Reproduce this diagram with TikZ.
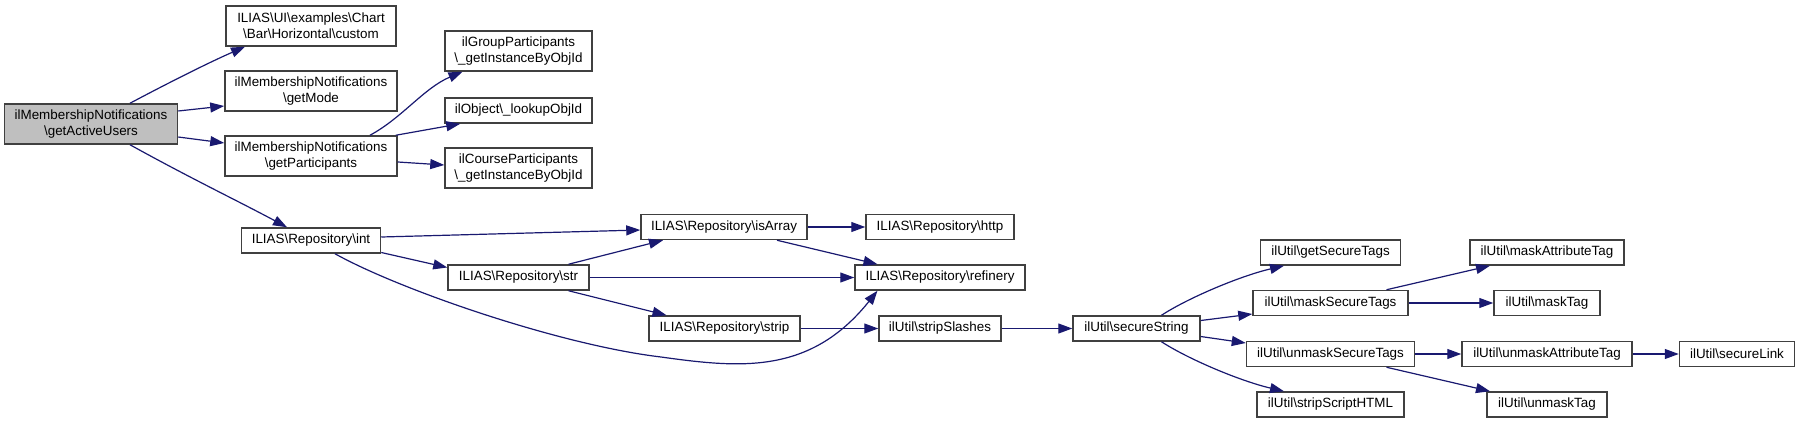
\documentclass[tikz,border=0pt]{standalone}
\usepackage{fontspec}
\setmainfont{Liberation Sans}
\usetikzlibrary{arrows.meta}
\newcommand\bsl{\textbackslash{}}
\definecolor{edgeblue}{HTML}{191970}
\definecolor{boxline}{HTML}{404040}
\definecolor{rootfill}{HTML}{BFBFBF}
\begin{document}
\begin{tikzpicture}[x=1pt,y=-1pt,
  box/.style={draw=boxline, line width=1.5pt, fill=white, inner sep=0pt, align=center,
    font=\fontsize{13.4}{16}\selectfont},
  root/.style={box, fill=rootfill},
  edge/.style={draw=edgeblue, line width=1.2pt, -{Triangle[length=14pt,width=10pt]}}
]
\useasboundingbox (0,0) rectangle (1800,423);
\fill[white] (0,0) rectangle (1800,423);

% nodes
\node[root, minimum width=173, minimum height=40] (gau) at (91,124) {ilMembershipNotifications\\\bsl getActiveUsers};
\node[box, minimum width=170, minimum height=40] (custom) at (311,26) {ILIAS\bsl UI\bsl examples\bsl Chart\\\bsl Bar\bsl Horizontal\bsl custom};
\node[box, minimum width=172, minimum height=40] (getmode) at (311,91) {ilMembershipNotifications\\\bsl getMode};
\node[box, minimum width=172, minimum height=40] (getpart) at (311,156) {ilMembershipNotifications\\\bsl getParticipants};
\node[box, minimum width=147, minimum height=40] (groups) at (518.5,51) {ilGroupParticipants\\\bsl\_getInstanceByObjId};
\node[box, minimum width=147, minimum height=25] (object) at (518.5,110.5) {ilObject\bsl\_lookupObjId};
\node[box, minimum width=147, minimum height=40] (course) at (518.5,168) {ilCourseParticipants\\\bsl\_getInstanceByObjId};
\node[box, minimum width=139, minimum height=25] (int) at (311,240.5) {ILIAS\bsl Repository\bsl int};
\node[box, minimum width=166, minimum height=25] (isarray) at (724,227) {ILIAS\bsl Repository\bsl isArray};
\node[box, minimum width=148, minimum height=25] (http) at (940,227) {ILIAS\bsl Repository\bsl http};
\node[box, minimum width=141, minimum height=25] (str) at (518.5,277.5) {ILIAS\bsl Repository\bsl str};
\node[box, minimum width=170, minimum height=25] (refinery) at (940,277.5) {ILIAS\bsl Repository\bsl refinery};
\node[box, minimum width=151, minimum height=25] (strip) at (724.5,328.5) {ILIAS\bsl Repository\bsl strip};
\node[box, minimum width=122, minimum height=25] (stripslashes) at (940,328.5) {ilUtil\bsl stripSlashes};
\node[box, minimum width=127, minimum height=25] (securestring) at (1136.5,328.5) {ilUtil\bsl secureString};
\node[box, minimum width=140, minimum height=25] (getsecuretags) at (1330.5,252.5) {ilUtil\bsl getSecureTags};
\node[box, minimum width=155, minimum height=25] (masksecuretags) at (1330.5,303) {ilUtil\bsl maskSecureTags};
\node[box, minimum width=168, minimum height=25] (unmasksecuretags) at (1330.5,354) {ilUtil\bsl unmaskSecureTags};
\node[box, minimum width=147, minimum height=25] (stripscripthtml) at (1330.5,404.5) {ilUtil\bsl stripScriptHTML};
\node[box, minimum width=154, minimum height=25] (maskattr) at (1547,252.5) {ilUtil\bsl maskAttributeTag};
\node[box, minimum width=106, minimum height=25] (masktag) at (1547,303) {ilUtil\bsl maskTag};
\node[box, minimum width=170, minimum height=25] (unmaskattr) at (1547,354) {ilUtil\bsl unmaskAttributeTag};
\node[box, minimum width=120, minimum height=25] (unmasktag) at (1547,404.5) {ilUtil\bsl unmaskTag};
\node[box, minimum width=115, minimum height=25] (securelink) at (1737,354) {ilUtil\bsl secureLink};

% edges
\draw[edge] ([xshift=39pt]gau.north) .. controls (170,82) and (210,62) .. ([xshift=-66pt]custom.south);
\draw[edge] ([yshift=13pt]gau.east) -- ([yshift=-15pt]getmode.west);
\draw[edge] ([yshift=-13pt]gau.east) -- ([yshift=13pt]getpart.west);
\draw[edge] ([xshift=39pt]gau.south) .. controls (190,178) and (240,202) .. ([xshift=-24pt]int.north);
\draw[edge] ([xshift=59pt]getpart.north) .. controls (402,118) and (424,88) .. ([xshift=-56pt]groups.south);
\draw[edge] ([xshift=-2pt]getpart.north east) -- ([xshift=16pt]object.south west);
\draw[edge] ([yshift=-6pt]getpart.east) -- ([yshift=3pt]course.west);
\draw[edge] ([yshift=3.5pt]int.east) -- ([yshift=-3pt]isarray.west);
\draw[edge] ([yshift=-12pt]int.east) -- ([yshift=10pt]str.west);
\draw[edge] ([xshift=24pt]int.south) .. controls (400,290) and (560,345) .. (661,357)
   .. controls (740,368) and (810,375) .. ([xshift=-62.5pt]refinery.south);
\draw[edge] ([xshift=50pt]str.north) -- ([xshift=-61pt]isarray.south);
\draw[edge] (str.east) -- (refinery.west);
\draw[edge] ([xshift=50pt]str.south) -- ([xshift=-58pt]strip.north);
\draw[edge] (isarray.east) -- (http.west);
\draw[edge] ([xshift=53pt]isarray.south) -- ([xshift=-62.5pt]refinery.north);
\draw[edge] (strip.east) -- (stripslashes.west);
\draw[edge] (stripslashes.east) -- (securestring.west);
\draw[edge] ([xshift=25pt]securestring.north) .. controls (1188,298) and (1240,276) .. ([xshift=-46.5pt]getsecuretags.south);
\draw[edge] ([yshift=8pt]securestring.east) -- ([yshift=-11pt]masksecuretags.west);
\draw[edge] ([yshift=-8pt]securestring.east) -- ([yshift=11pt]unmasksecuretags.west);
\draw[edge] ([xshift=25pt]securestring.south) .. controls (1188,359) and (1240,381) .. ([xshift=-46.5pt]stripscripthtml.north);
\draw[edge] ([xshift=56pt]masksecuretags.north) -- ([xshift=-57pt]maskattr.south);
\draw[edge] (masksecuretags.east) -- (masktag.west);
\draw[edge] (unmasksecuretags.east) -- (unmaskattr.west);
\draw[edge] ([xshift=56pt]unmasksecuretags.south) -- ([xshift=-57pt]unmasktag.north);
\draw[edge] (unmaskattr.east) -- (securelink.west);
\end{tikzpicture}
\end{document}
